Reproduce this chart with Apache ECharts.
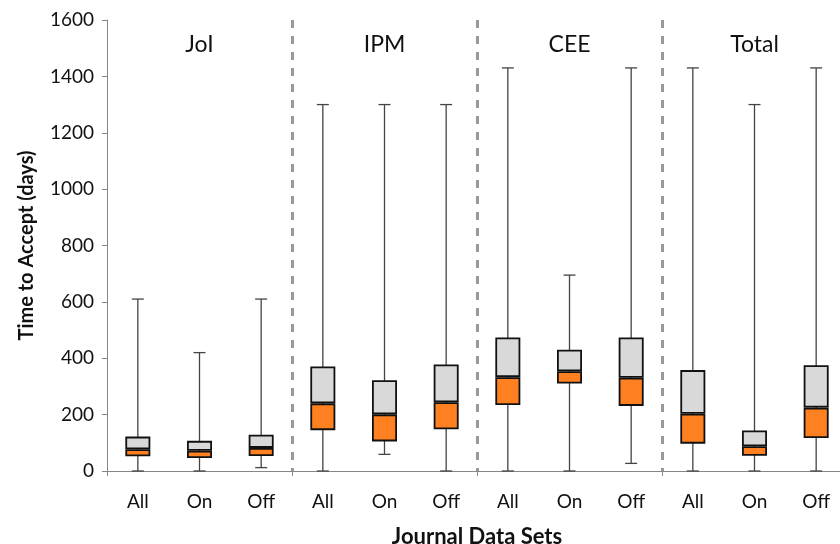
<!DOCTYPE html>
<html lang="en">
<head>
    <meta charset="UTF-8">
    <title>Time to Accept</title>
    <script src="https://cdn.jsdelivr.net/npm/echarts@6/dist/echarts.min.js"></script>
    <style>
        html, body { margin: 0; padding: 0; background: #fff; }
        #chart { width: 840px; height: 544px; }
    </style>
</head>
<body>
    <div id="chart"></div>
    <script>
        // data (days)
        var categories = ['All', 'On', 'Off', 'All', 'On', 'Off', 'All', 'On', 'Off', 'All', 'On', 'Off'];
        var groups = ['JoI', 'IPM', 'CEE', 'Total'];
        var mins    = [0, 0, 12,    0, 59, 0,      0, 0, 27,      0, 0, 0];
        var q1s     = [52, 46, 53,  145, 105, 148, 234, 310, 231, 97, 54, 117];
        var medians = [77, 72, 82,  240, 201, 244, 333, 354, 331, 203, 88, 225];
        var q3s     = [122, 107, 129, 371, 322, 378, 474, 430, 474, 358, 144, 375];
        var maxs    = [610, 420, 610, 1300, 1300, 1300, 1430, 695, 1430, 1430, 1300, 1430];
        var yTicks  = [0, 200, 400, 600, 800, 1000, 1200, 1400, 1600];

        var chart = echarts.init(document.getElementById('chart'));
        var font = 'Lato, "Open Sans", sans-serif';

        var lower = [], upper = [], whiskers = [];
        for (var i = 0; i < categories.length; i++) {
            lower.push(medians[i] - q1s[i]);
            upper.push(q3s[i] - medians[i]);
            whiskers.push([i, mins[i], maxs[i]]);
        }

        var gridLeft = 107, gridWidth = 740;
        var groupTitles = groups.map(function(g, k) {
            return {
                type: 'text',
                x: gridLeft + gridWidth / 4 * (k + 0.5),
                y: 45,
                style: {
                    text: g, font: '23px ' + font, fill: '#111',
                    textAlign: 'center', textVerticalAlign: 'middle'
                }
            };
        });

        var boxStyle = { borderColor: '#111', borderWidth: 1.8 };

        var option = {
            animation: false,
            textStyle: { fontFamily: font },
            grid: { left: gridLeft, top: 20, width: gridWidth, height: 451, containLabel: false, outerBoundsMode: 'none' },
            graphic: groupTitles,
            xAxis: {
                type: 'category',
                data: categories,
                boundaryGap: true,
                name: 'Journal Data Sets',
                nameLocation: 'middle',
                nameGap: 55,
                nameTextStyle: { fontSize: 22, fontWeight: 'bold', color: '#111', fontFamily: font },
                axisLine: { lineStyle: { color: '#868686', width: 1 } },
                axisTick: { show: true, interval: function(i) { return i % 3 === 0; }, length: 5, lineStyle: { color: '#868686' } },
                axisLabel: { fontSize: 19, color: '#111', margin: 21, interval: 0 },
                splitLine: {
                    show: true,
                    interval: function(i) { return i % 3 === 0 && i > 0; },
                    lineStyle: { color: '#999', width: 3, type: [8, 8] }
                }
            },
            yAxis: {
                type: 'value',
                min: yTicks[0],
                max: yTicks[yTicks.length - 1],
                interval: 200,
                name: 'Time to Accept (days)',
                nameLocation: 'middle',
                nameGap: 70,
                nameTextStyle: { fontSize: 20, fontWeight: 'bold', color: '#111', fontFamily: font },
                axisLine: { show: true, lineStyle: { color: '#868686', width: 1 } },
                axisTick: { show: true, length: 5, lineStyle: { color: '#868686' } },
                axisLabel: { fontSize: 19, color: '#111', margin: 13, formatter: function(v) { return String(v); } },
                splitLine: { show: false }
            },
            series: [
                {
                    type: 'custom',
                    z: 1,
                    encode: { x: 0, y: [1, 2] },
                    data: whiskers,
                    renderItem: function(params, api) {
                        var x = api.value(0);
                        var pLo = api.coord([x, api.value(1)]);
                        var pHi = api.coord([x, api.value(2)]);
                        var cap = 6;
                        var st = { stroke: '#444', lineWidth: 1.3 };
                        return {
                            type: 'group',
                            children: [
                                { type: 'line', shape: { x1: pLo[0], y1: pLo[1], x2: pHi[0], y2: pHi[1] }, style: st },
                                { type: 'line', shape: { x1: pHi[0] - cap, y1: pHi[1], x2: pHi[0] + cap, y2: pHi[1] }, style: st },
                                { type: 'line', shape: { x1: pLo[0] - cap, y1: pLo[1], x2: pLo[0] + cap, y2: pLo[1] }, style: st }
                            ]
                        };
                    }
                },
                {
                    type: 'bar', stack: 'box', z: 2, barWidth: 25,
                    data: q1s,
                    itemStyle: { color: 'transparent' },
                    silent: true
                },
                {
                    type: 'bar', stack: 'box', z: 2, barWidth: 25,
                    data: lower,
                    itemStyle: Object.assign({ color: '#fe8020' }, boxStyle)
                },
                {
                    type: 'bar', stack: 'box', z: 2, barWidth: 25,
                    data: upper,
                    itemStyle: Object.assign({ color: '#d9d9d9' }, boxStyle)
                }
            ]
        };

        chart.setOption(option);
    </script>
</body>
</html>
